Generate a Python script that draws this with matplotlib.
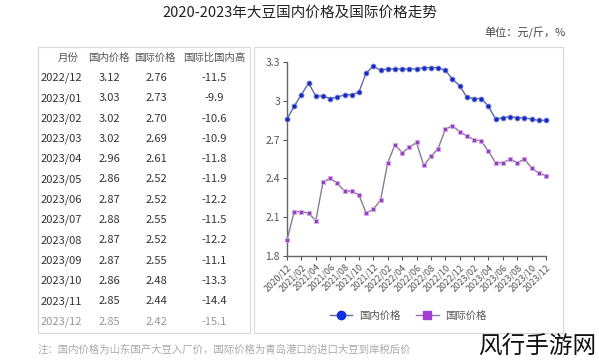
import matplotlib.pyplot as plt
from matplotlib.patches import Rectangle
from matplotlib.lines import Line2D

plt.rcParams['font.family'] = ['Noto Sans CJK SC', 'DejaVu Sans']

# data
months = ['2020/12', '2021/01', '2021/02', '2021/03', '2021/04', '2021/05', '2021/06',
          '2021/07', '2021/08', '2021/09', '2021/10', '2021/11', '2021/12',
          '2022/01', '2022/02', '2022/03', '2022/04', '2022/05', '2022/06',
          '2022/07', '2022/08', '2022/09', '2022/10', '2022/11', '2022/12',
          '2023/01', '2023/02', '2023/03', '2023/04', '2023/05', '2023/06',
          '2023/07', '2023/08', '2023/09', '2023/10', '2023/11', '2023/12']
domestic = [2.86, 2.96, 3.05, 3.14, 3.04, 3.04, 3.02, 3.03, 3.05, 3.05, 3.07, 3.22, 3.27,
            3.24, 3.25, 3.25, 3.25, 3.25, 3.25, 3.26, 3.26, 3.26, 3.24, 3.17, 3.12,
            3.03, 3.02, 3.02, 2.96, 2.86, 2.87, 2.88, 2.87, 2.87, 2.86, 2.85, 2.85]
intl = [1.92, 2.14, 2.14, 2.13, 2.07, 2.37, 2.40, 2.36, 2.30, 2.30, 2.27, 2.13, 2.16,
        2.23, 2.52, 2.66, 2.60, 2.64, 2.68, 2.50, 2.57, 2.63, 2.78, 2.81, 2.76,
        2.73, 2.70, 2.69, 2.61, 2.52, 2.52, 2.55, 2.52, 2.55, 2.48, 2.44, 2.42]

table_months = ['2022/12', '2023/01', '2023/02', '2023/03', '2023/04', '2023/05', '2023/06',
                '2023/07', '2023/08', '2023/09', '2023/10', '2023/11', '2023/12']
table_dom = ['3.12', '3.03', '3.02', '3.02', '2.96', '2.86', '2.87', '2.88', '2.87',
             '2.87', '2.86', '2.85', '2.85']
table_intl = ['2.76', '2.73', '2.70', '2.69', '2.61', '2.52', '2.52', '2.55', '2.52',
              '2.55', '2.48', '2.44', '2.42']
table_diff = ['-11.5', '-9.9', '-10.6', '-10.9', '-11.8', '-11.9', '-12.2', '-11.5',
              '-12.2', '-11.1', '-13.3', '-14.4', '-15.1']
headers = ['月份', '国内价格', '国际价格', '国际比国内高']

W, H = 599, 363
fig = plt.figure(figsize=(W / 100, H / 100), dpi=100)


def px(x, y):
    return x / W, 1 - y / H


# title and unit
fig.text(*px(300, 13), '2020-2023年大豆国内价格及国际价格走势', ha='center', va='center',
         fontsize=10.5, color='#222222')
fig.text(*px(566, 33), '单位：元/斤，%', ha='right', va='center', fontsize=8, color='#444444')

# boxes
for x0, x1 in [(38, 250), (254, 563)]:
    fig.patches.append(Rectangle(px(x0, 333), (x1 - x0) / W, (333 - 47) / H,
                                 transform=fig.transFigure, fill=False,
                                 edgecolor='#d8d8d8', linewidth=0.8))

# table
hx = [68, 109, 155, 214]
for x, h in zip(hx, headers):
    fig.text(*px(x, 58), h, ha='center', va='center', fontsize=7.5, color='#555555')
for i in range(len(table_months)):
    y = 78 + i * 20.3
    c = '#333333' if i < len(table_months) - 1 else '#999999'
    fig.text(*px(41, y), table_months[i], ha='left', va='center', fontsize=8, color=c)
    fig.text(*px(109, y), table_dom[i], ha='center', va='center', fontsize=8, color=c)
    fig.text(*px(156, y), table_intl[i], ha='center', va='center', fontsize=8, color=c)
    fig.text(*px(214, y), table_diff[i], ha='center', va='center', fontsize=8, color=c)

# chart
l, b = px(287, 255.5)
ax = fig.add_axes([l, b, (546 - 287) / W, (255.5 - 62.5) / H])
x = list(range(len(months)))
ax.plot(x, domestic, color='#5a6aa8', linewidth=1.0, marker='o', markersize=3.5,
        markerfacecolor='#1a2ab8', markeredgecolor='#6a7ae0', markeredgewidth=0.6,
        clip_on=False, zorder=3)
ax.plot(x, intl, color='#8a7a95', linewidth=1.0, marker='s', markersize=3.5,
        markerfacecolor='#8a48b8', markeredgecolor='#e0a0f0', markeredgewidth=0.6,
        clip_on=False, zorder=3)
ax.set_xlim(0, len(months) - 1)
ax.set_ylim(1.8, 3.3)
ax.set_yticks([1.8, 2.1, 2.4, 2.7, 3.0, 3.3])
ax.set_yticklabels(['1.8', '2.1', '2.4', '2.7', '3', '3.3'])
ax.set_xticks(x[::2])
ax.set_xticklabels(months[::2], rotation=45, ha='right', rotation_mode='anchor')
ax.tick_params(axis='y', labelsize=7.5, colors='#555555', length=3, width=0.8, pad=2)
ax.tick_params(axis='x', labelsize=6.5, colors='#555555', length=3, width=0.8, pad=2)
for s in ['top', 'right']:
    ax.spines[s].set_visible(False)
for s in ['left', 'bottom']:
    ax.spines[s].set_color('#666666')
    ax.spines[s].set_linewidth(1.0)

handles = [Line2D([], [], color='#5a6aa8', marker='o', markersize=6,
                  markerfacecolor='#1030e0', markeredgecolor='#1030e0', linewidth=1),
           Line2D([], [], color='#9a70c0', marker='s', markersize=6,
                  markerfacecolor='#a040d0', markeredgecolor='#a040d0', linewidth=1)]
fig.legend(handles, ['国内价格', '国际价格'], loc='center', bbox_to_anchor=px(408, 316),
           ncol=2, frameon=False, fontsize=7.5, handlelength=2.2, columnspacing=1.5,
           handletextpad=0.6, labelcolor='#555555')

# note and watermark
fig.text(*px(38, 350), '注：国内价格为山东国产大豆入厂价，国际价格为青岛港口的进口大豆到岸税后价',
         ha='left', va='center', fontsize=7.5, color='#aaaaaa')
fig.text(*px(596, 346), '风行手游网', ha='right', va='center', fontsize=17, color='#111111')

fig.savefig('out.png', dpi=100)
